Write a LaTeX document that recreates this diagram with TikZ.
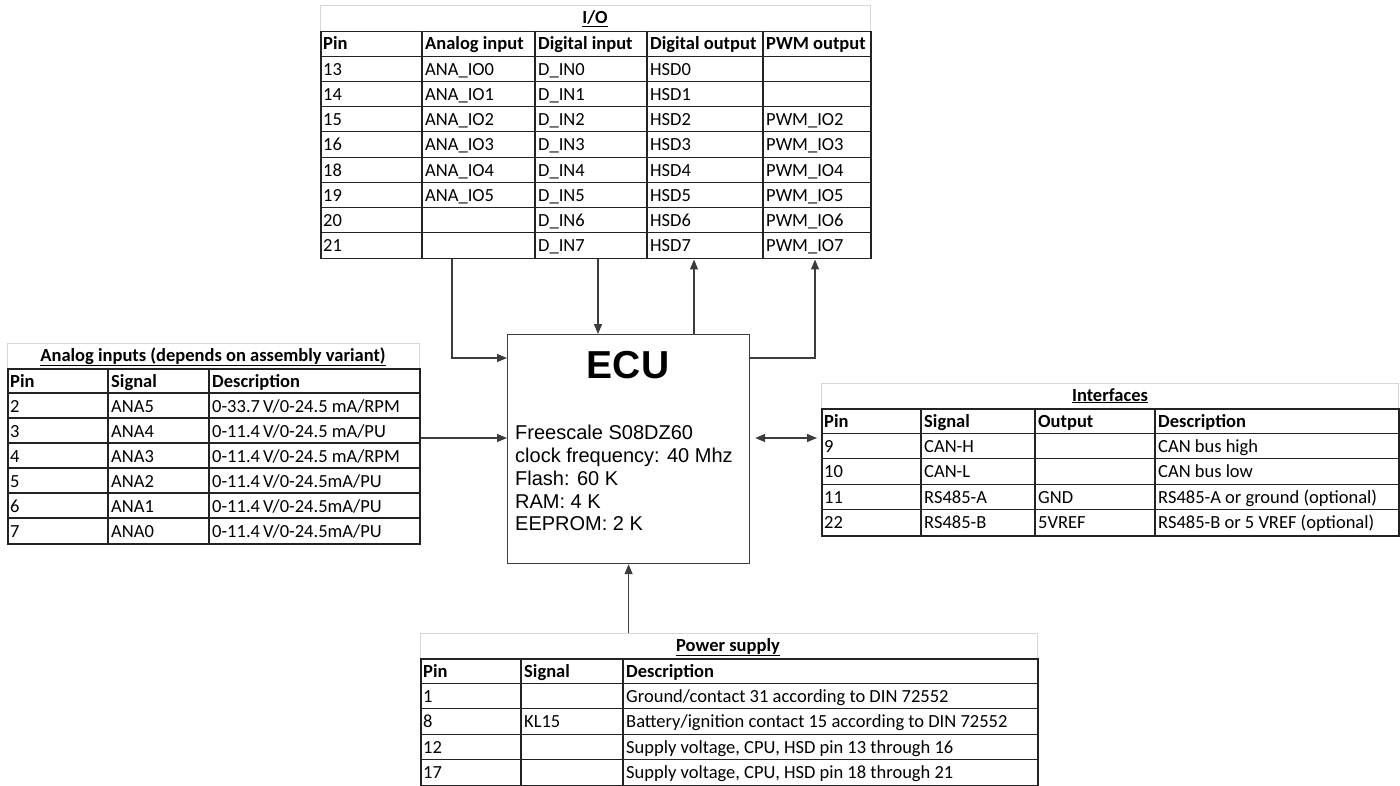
\documentclass[tikz,border=0pt]{standalone}
\usepackage{fontspec}
\setmainfont{Carlito}
\newfontfamily\ecufont{Liberation Sans}
\usetikzlibrary{arrows.meta, calc, positioning}
\definecolor{gridline}{RGB}{35, 35, 35}
\definecolor{frameline}{RGB}{215, 215, 215}
\definecolor{wireline}{RGB}{60, 60, 60}

\begin{document}
\begin{tikzpicture}[x=1pt, y=-1pt,
	titlebox/.style={draw=frameline, line width=1.2pt, anchor=north west, inner sep=0pt},
	tablebox/.style={draw=gridline, line width=1.5pt, anchor=north west, inner sep=0pt},
	gridrule/.style={draw=gridline, line width=1.1pt},
	cell/.style={anchor=base west, inner sep=0pt, font=\fontsize{18.5}{20}\selectfont},
	headcell/.style={cell, font=\fontsize{18.5}{20}\selectfont\bfseries},
	titletext/.style={anchor=base, inner sep=0pt, font=\fontsize{18.5}{20}\selectfont\bfseries},
	ecubox/.style={draw=wireline, line width=1.2pt, anchor=north west, inner sep=0pt},
	arr/.style={draw=wireline, line width=1.2pt, -{Triangle[length=10pt, width=8pt]}},
	dblarr/.style={draw=wireline, line width=1.2pt,
		{Triangle[length=10pt, width=8pt]}-{Triangle[length=10pt, width=8pt]},
		shorten <=5pt, shorten >=4pt}
	]
	\useasboundingbox (0,0) rectangle (1400,786);
	
	% I/O
	\node[titlebox, minimum width=550pt, minimum height=253pt] (io-frame) at (320,5) {};
	\node[titletext] (io-title) at (595,24) {\underline{I/O}};
	\node[tablebox, minimum width=550pt, minimum height=227pt] (io) at (320,31) {};
	\foreach \x in {422,535,647,763} \draw[gridrule] (\x,31) -- (\x,258);
	\foreach \i in {1,...,8} \draw[gridrule] (320,{31+25.22*\i}) -- (870,{31+25.22*\i});
	\foreach \t/\x [count=\c] in {Pin/323, Analog input/425, Digital input/538,
		Digital output/650, PWM output/766}
	\node[headcell] (io-0-\c) at (\x,50) {\t};
	\foreach \p/\a/\d/\o/\w [count=\r] in {13/ANA\_IO0/D\_IN0/HSD0/{},
		14/ANA\_IO1/D\_IN1/HSD1/{}, 15/ANA\_IO2/D\_IN2/HSD2/PWM\_IO2,
		16/ANA\_IO3/D\_IN3/HSD3/PWM\_IO3, 18/ANA\_IO4/D\_IN4/HSD4/PWM\_IO4,
		19/ANA\_IO5/D\_IN5/HSD5/PWM\_IO5, 20/{}/D\_IN6/HSD6/PWM\_IO6,
		21/{}/D\_IN7/HSD7/PWM\_IO7}{
		\node[cell] (io-\r-1) at (323,{50+25.22*\r}) {\p};
		\node[cell] (io-\r-2) at (425,{50+25.22*\r}) {\a};
		\node[cell] (io-\r-3) at (538,{50+25.22*\r}) {\d};
		\node[cell] (io-\r-4) at (650,{50+25.22*\r}) {\o};
		\node[cell] (io-\r-5) at (766,{50+25.22*\r}) {\w};
	}
	
	% Analog inputs
	\node[titlebox, minimum width=412pt, minimum height=200pt] (ana-frame) at (7,343) {};
	\node[titletext] (ana-title) at (213,361) {\underline{Analog inputs (depends on assembly variant)}};
	\node[tablebox, minimum width=412pt, minimum height=175pt] (ana) at (7,368) {};
	\foreach \x in {108,209} \draw[gridrule] (\x,368) -- (\x,543);
	\foreach \i in {1,...,6} \draw[gridrule] (7,{368+25*\i}) -- (419,{368+25*\i});
	\foreach \t/\x [count=\c] in {Pin/10, Signal/111, Description/212}
	\node[headcell] (ana-0-\c) at (\x,387) {\t};
	\foreach \p/\s/\d [count=\r] in {2/ANA5/{0-33.7\,V/0-24.5 mA/RPM},
		3/ANA4/{0-11.4\,V/0-24.5 mA/PU}, 4/ANA3/{0-11.4\,V/0-24.5 mA/RPM},
		5/ANA2/{0-11.4\,V/0-24.5mA/PU}, 6/ANA1/{0-11.4\,V/0-24.5mA/PU},
		7/ANA0/{0-11.4\,V/0-24.5mA/PU}}{
		\node[cell] (ana-\r-1) at (10,{387+25*\r}) {\p};
		\node[cell] (ana-\r-2) at (111,{387+25*\r}) {\s};
		\node[cell] (ana-\r-3) at (212,{387+25*\r}) {\d};
	}
	
	% Interfaces
	\node[titlebox, minimum width=577pt, minimum height=152pt] (ifc-frame) at (821,383) {};
	\node[titletext] (ifc-title) at (1110,401) {\underline{Interfaces}};
	\node[tablebox, minimum width=577pt, minimum height=127pt] (ifc) at (821,408) {};
	\foreach \x in {921,1035,1155} \draw[gridrule] (\x,408) -- (\x,535);
	\foreach \i in {1,...,4} \draw[gridrule] (821,{408+25.4*\i}) -- (1398,{408+25.4*\i});
	\foreach \t/\x [count=\c] in {Pin/824, Signal/924, Output/1038, Description/1158}
	\node[headcell] (ifc-0-\c) at (\x,427) {\t};
	\foreach \p/\s/\o/\d [count=\r] in {9/CAN-H/{}/CAN bus high, 10/CAN-L/{}/CAN bus low,
		11/RS485-A/GND/RS485-A or ground (optional),
		22/RS485-B/5VREF/RS485-B or 5 VREF (optional)}{
		\node[cell] (ifc-\r-1) at (824,{427+25.4*\r}) {\p};
		\node[cell] (ifc-\r-2) at (924,{427+25.4*\r}) {\s};
		\node[cell] (ifc-\r-3) at (1038,{427+25.4*\r}) {\o};
		\node[cell] (ifc-\r-4) at (1158,{427+25.4*\r}) {\d};
	}
	
	% Power supply
	\node[titlebox, minimum width=617pt, minimum height=152pt] (pwr-frame) at (420,633) {};
	\node[titletext] (pwr-title) at (728,651) {\underline{Power supply}};
	\node[tablebox, minimum width=617pt, minimum height=127pt] (pwr) at (420,658) {};
	\foreach \x in {521,623} \draw[gridrule] (\x,658) -- (\x,785);
	\foreach \i in {1,...,4} \draw[gridrule] (420,{658+25.4*\i}) -- (1037,{658+25.4*\i});
	\foreach \t/\x [count=\c] in {Pin/423, Signal/524, Description/626}
	\node[headcell] (pwr-0-\c) at (\x,677) {\t};
	\foreach \p/\s/\d [count=\r] in {1/{}/{Ground/contact 31 according to DIN 72552},
		8/KL15/{Battery/ignition contact 15 according to DIN 72552},
		12/{}/{Supply voltage, CPU, HSD pin 13 through 16},
		17/{}/{Supply voltage, CPU, HSD pin 18 through 21}}{
		\node[cell] (pwr-\r-1) at (423,{677+25.4*\r}) {\p};
		\node[cell] (pwr-\r-2) at (524,{677+25.4*\r}) {\s};
		\node[cell] (pwr-\r-3) at (626,{677+25.4*\r}) {\d};
	}
	
	% ECU
	\node[ecubox, minimum width=242pt, minimum height=229pt] (ecu) at (507,334) {};
	\node[anchor=base, inner sep=0pt, font=\ecufont\fontsize{39}{40}\selectfont\bfseries]
	(ecu-name) at (628,378) {ECU};
	\node[anchor=north west, inner sep=0pt, align=left,
	font=\ecufont\fontsize{20}{22.8}\selectfont] (ecu-spec) at (515,425)
	{Freescale S08DZ60\\clock frequency: 40 Mhz\\Flash: 60 K\\RAM: 4 K\\EEPROM: 2 K};
	
	% connectors
	\coordinate (ecu-mid) at ($(ecu.north west)+(0,104)$);
	\draw[arr] ($(io.south west)+(132,0)$) |- ($(ecu.north west)+(0,24)$);
	\draw[arr] ($(io.south west)+(278,0)$) coordinate (din) -- (din |- ecu.north);
	\draw[arr] ($(ecu.north west)+(187,0)$) coordinate (dout) -- (dout |- io.south);
	\draw[arr] ($(ecu.north east)+(0,24)$) -| ($(io.south west)+(495,0)$);
	\draw[arr] (ana.east |- ecu-mid) -- (ecu-mid);
	\draw[dblarr] (ecu.east |- ecu-mid) -- (ifc.west |- ecu-mid);
	\draw[arr] (pwr-frame.north -| ecu.south) -- (ecu.south);
\end{tikzpicture}
\end{document}
